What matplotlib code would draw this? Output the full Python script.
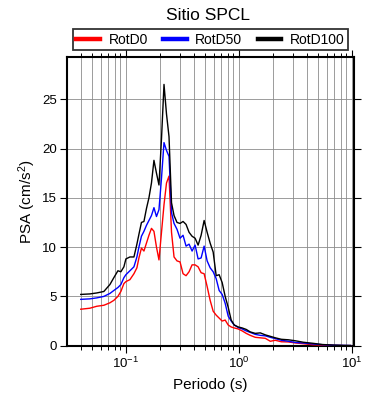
import numpy as np
import matplotlib
matplotlib.use("Agg")
import matplotlib.pyplot as plt
from matplotlib.lines import Line2D
from matplotlib.ticker import LogLocator, FixedLocator, NullFormatter

plt.rcParams["font.family"] = ["Liberation Sans", "DejaVu Sans"]
plt.rcParams["mathtext.fontset"] = "custom"
plt.rcParams["mathtext.rm"] = "Liberation Sans"
plt.rcParams["mathtext.it"] = "Liberation Sans:italic"
plt.rcParams["mathtext.bf"] = "Liberation Sans:bold"

# periods (s)
periods = [
    0.0401, 0.0482, 0.0556, 0.0642, 0.0726, 0.0787, 0.0855, 0.0908, 0.0966, 0.1006,
    0.1092, 0.1185, 0.1259, 0.1312, 0.1381, 0.1453, 0.1529, 0.1609, 0.1694, 0.1782,
    0.1876, 0.1974, 0.2078, 0.2187, 0.2301, 0.2422, 0.2549, 0.2683, 0.2851, 0.3032,
    0.3224, 0.3428, 0.3645, 0.3876, 0.4121, 0.4382, 0.4659, 0.4954, 0.5267, 0.5601,
    0.5955, 0.6332, 0.6728, 0.7154, 0.7606, 0.8088, 0.8599, 0.9142, 0.992, 1.076,
    1.168, 1.267, 1.404, 1.555, 1.722, 1.907, 2.113, 2.388, 2.755, 3.179,
    3.743, 4.499, 5.518, 6.910, 8.477, 9.78,
]

rotd100 = [
    5.2, 5.25, 5.35, 5.5, 6.2, 6.9, 7.6, 7.5, 8.0, 8.8,
    9.0, 9.0, 10.3, 11.3, 12.5, 12.6, 13.9, 15.0, 16.5, 18.8,
    17.5, 16.3, 21.0, 26.5, 23.5, 21.2, 14.5, 13.2, 12.5, 12.4,
    12.6, 12.3, 11.5, 11.1, 10.9, 10.2, 11.2, 12.7, 11.5, 10.4,
    9.5, 7.1, 7.2, 6.4, 5.0, 3.9, 2.6, 2.1, 1.9, 1.8,
    1.65, 1.4, 1.25, 1.3, 1.1, 0.95, 0.8, 0.65, 0.6, 0.5,
    0.35, 0.25, 0.12, 0.06, 0.03, 0.02,
]

rotd50 = [
    4.7, 4.75, 4.85, 5.0, 5.3, 5.6, 5.9, 6.2, 6.9, 7.2,
    7.6, 8.0, 9.0, 10.0, 11.1, 11.6, 12.2, 12.7, 13.2, 14.0,
    13.1, 13.8, 17.0, 20.6, 19.8, 19.2, 13.5, 12.4, 11.8, 10.9,
    11.2, 10.1, 10.3, 9.6, 10.2, 8.8, 8.9, 10.1, 8.6, 7.9,
    7.5, 6.8, 5.6, 5.2, 4.3, 3.0, 2.5, 2.1, 1.85, 1.7,
    1.5, 1.35, 1.15, 1.05, 1.0, 0.85, 0.72, 0.55, 0.45, 0.33,
    0.27, 0.18, 0.1, 0.05, 0.03, 0.02,
]

rotd0 = [
    3.7, 3.8, 4.0, 4.1, 4.35, 4.6, 5.0, 5.5, 6.3, 6.5,
    6.7, 7.3, 7.9, 8.9, 9.9, 9.6, 10.4, 11.2, 11.9, 11.6,
    10.0, 8.7, 11.5, 14.3, 16.5, 17.2, 11.5, 9.0, 8.6, 8.5,
    7.3, 7.1, 7.5, 8.2, 8.2, 8.0, 7.4, 7.3, 6.0, 4.6,
    3.5, 3.1, 2.8, 2.5, 2.6, 2.1, 1.9, 1.8, 1.7, 1.5,
    1.25, 1.05, 0.85, 0.8, 0.75, 0.45, 0.55, 0.4, 0.38, 0.28,
    0.2, 0.1, 0.06, 0.03, 0.01, 0.01,
]

series_names = ["RotD0", "RotD50", "RotD100"]
series_colors = ["#ff0000", "#0000ff", "#000000"]
y_ticks = [0, 5, 10, 15, 20, 25]

fig = plt.figure(figsize=(3.9, 4.0), dpi=100)
ax = fig.add_axes([67 / 390, 54.3 / 400, 287 / 390, 288.4 / 400])

for values, color in zip([rotd0, rotd50, rotd100], series_colors):
    ax.plot(periods, values, color=color, lw=1.0, zorder=3)

ax.set_xscale("log")
ax.set_xlim(0.0303, 10.5)
ax.set_ylim(0, 29.25)

ax.xaxis.set_major_locator(LogLocator(base=10, numticks=10))
ax.xaxis.set_minor_locator(LogLocator(base=10, subs=np.arange(2, 10), numticks=20))
ax.xaxis.set_minor_formatter(NullFormatter())
ax.yaxis.set_major_locator(FixedLocator(y_ticks))

ax.grid(True, which="both", axis="x", color="0.55", lw=0.6, zorder=0)
ax.grid(True, which="major", axis="y", color="0.55", lw=0.6, zorder=0)

ax.tick_params(which="major", direction="out", length=5, width=0.8,
               top=True, right=True, labelsize=9.5, pad=2)
ax.tick_params(which="minor", direction="out", length=3, width=0.7,
               top=True, right=False)
ax.tick_params(axis="y", which="minor", left=False, right=False)

for spine in ax.spines.values():
    spine.set_linewidth(1.5)

ax.set_xlabel("Periodo (s)", fontsize=11, labelpad=5)
ax.set_ylabel("PSA (cm/s$^2$)", fontsize=11, labelpad=3)
fig.text(208 / 390, 1 - 15 / 400, "Sitio SPCL", ha="center", va="center", fontsize=12.5)

handles = [Line2D([], [], color=c, lw=3.2) for c in series_colors]
leg = ax.legend(handles, series_names, ncol=3, loc="lower left",
                bbox_to_anchor=(0.021, 1.025, 0.958, 0.077), mode="expand",
                borderaxespad=0, fontsize=10, handlelength=1.7, handletextpad=0.6,
                borderpad=0.25, frameon=True, fancybox=False)
leg.get_frame().set_edgecolor("black")
leg.get_frame().set_linewidth(1.3)

fig.savefig("out.png", dpi=100)
